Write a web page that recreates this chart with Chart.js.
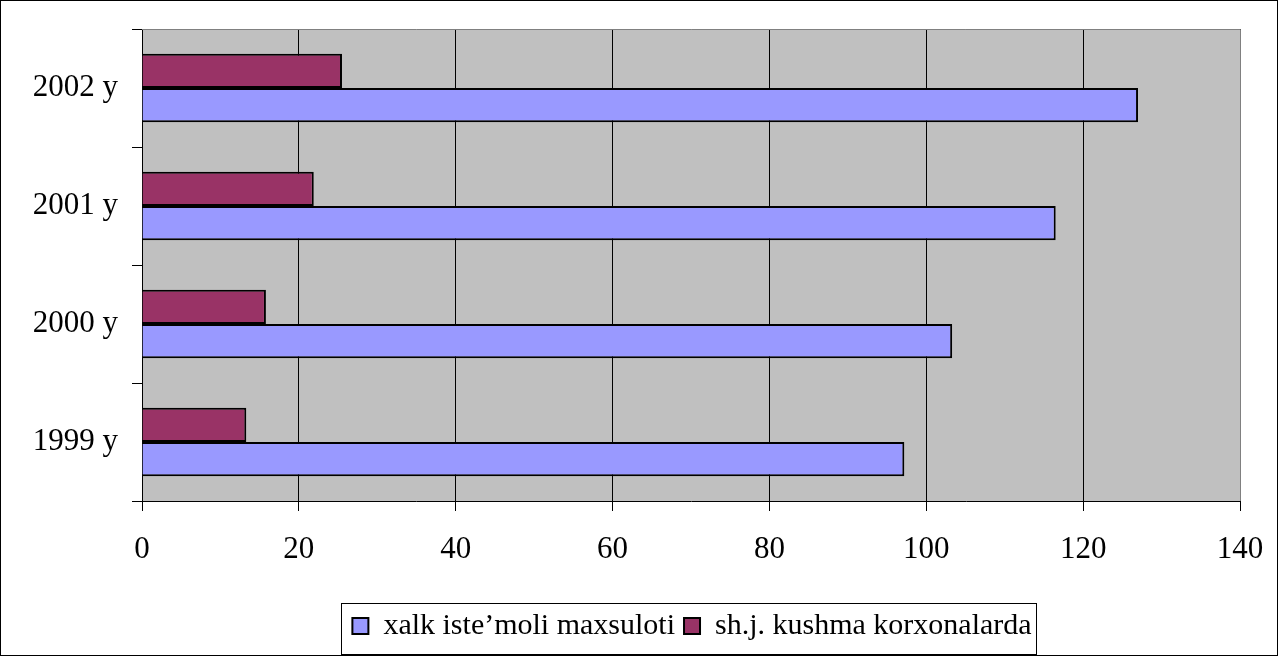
<!DOCTYPE html>
<html><head><meta charset="utf-8">
<script src="https://cdn.jsdelivr.net/npm/chart.js@4"></script>
<style>html,body{margin:0;padding:0;background:#fff}#wrap{width:1278px;height:656px}</style>
</head><body><div id="wrap"><canvas id="c"></canvas></div>
<script>
const categories = ['1999 y', '2000 y', '2001 y', '2002 y'];
const seriesNames = ['xalk iste\u2019moli maxsuloti', 'sh.j. kushma korxonalarda'];
const consumerGoods = [97.2, 103.3, 116.5, 127.0];
const jointVentures = [13.3, 15.8, 21.9, 25.5];
const xTicks = [0, 20, 40, 60, 80, 100, 120, 140];

const FONT = 'Liberation Serif';
const frame = {
  id: 'frame',
  afterLayout(chart) {
    const lg = chart.legend;
    if (lg) { lg.left += 72; lg.right += 72; }
  },
  beforeDraw(chart) {
    const {ctx, chartArea: a} = chart;
    ctx.save();
    ctx.fillStyle = '#C0C0C0';
    ctx.fillRect(a.left, a.top, a.right - a.left, a.bottom - a.top);
    ctx.restore();
  },
  afterDraw(chart) {
    const {ctx, chartArea: a} = chart;
    ctx.save();
    ctx.strokeStyle = '#808080';
    ctx.lineWidth = 1;
    ctx.beginPath();
    ctx.moveTo(a.left, a.top + 0.5); ctx.lineTo(a.right + 0.5, a.top + 0.5); ctx.lineTo(a.right + 0.5, a.bottom);
    ctx.stroke();
    ctx.strokeStyle = '#000';
    ctx.strokeRect(0.5, 0.5, chart.width - 1, chart.height - 1);
    const hb = chart.legend.legendHitBoxes;
    if (hb && hb.length) {
      let l = Infinity, r = -Infinity, t = Infinity, b = -Infinity;
      hb.forEach(h => { l = Math.min(l, h.left); r = Math.max(r, h.left + h.width); t = Math.min(t, h.top); b = Math.max(b, h.top + h.height); });
      const cy = (t + b) / 2;
      ctx.strokeRect(Math.round(l - 11) + 0.5, Math.round(cy - 23) + 0.5, Math.round(r - l + 16), 51);
    }
    ctx.restore();
  }
};

new Chart(document.getElementById('c'), {
  type: 'bar',
  data: {
    labels: categories,
    datasets: [
      { label: seriesNames[1], data: jointVentures, backgroundColor: '#993366', borderColor: '#000', borderWidth: 2, categoryPercentage: 0.58, barPercentage: 1.0 },
      { label: seriesNames[0], data: consumerGoods, backgroundColor: '#9999FF', borderColor: '#000', borderWidth: 2, categoryPercentage: 0.58, barPercentage: 1.0 }
    ]
  },
  options: {
    indexAxis: 'y',
    responsive: true,
    maintainAspectRatio: false,
    animation: false,
    devicePixelRatio: 1,
    layout: { padding: { top: 29, right: 38, bottom: 5, left: 0 } },
    scales: {
      x: {
        min: 0, max: 140,
        afterBuildTicks(s) { s.ticks = xTicks.map(v => ({ value: v })); },
        grid: { color: '#000', lineWidth: 1, tickLength: 10, drawTicks: true, tickColor: '#000' },
        border: { color: '#000', width: 1 },
        ticks: { color: '#000', font: { family: FONT, size: 31 }, padding: 20, maxRotation: 0 },
        afterFit(s) { s.height = 101; s.paddingLeft = 0; s.paddingRight = 0; }
      },
      y: {
        reverse: true,
        grid: { drawOnChartArea: false, tickLength: 10, color: '#000', offset: true },
        border: { color: '#000', width: 1 },
        ticks: { color: '#000', font: { family: FONT, size: 31 }, padding: 14 },
        afterFit(s) { s.width = 142; s.paddingTop = 0; s.paddingBottom = 0; }
      }
    },
    plugins: {
      legend: {
        position: 'bottom',
        reverse: true,
        labels: { color: '#000', font: { family: FONT, size: 30 }, boxWidth: 16, boxHeight: 16, padding: 9, useBorderRadius: false }
      },
      tooltip: { enabled: false }
    }
  },
  plugins: [frame]
});
</script></body></html>
